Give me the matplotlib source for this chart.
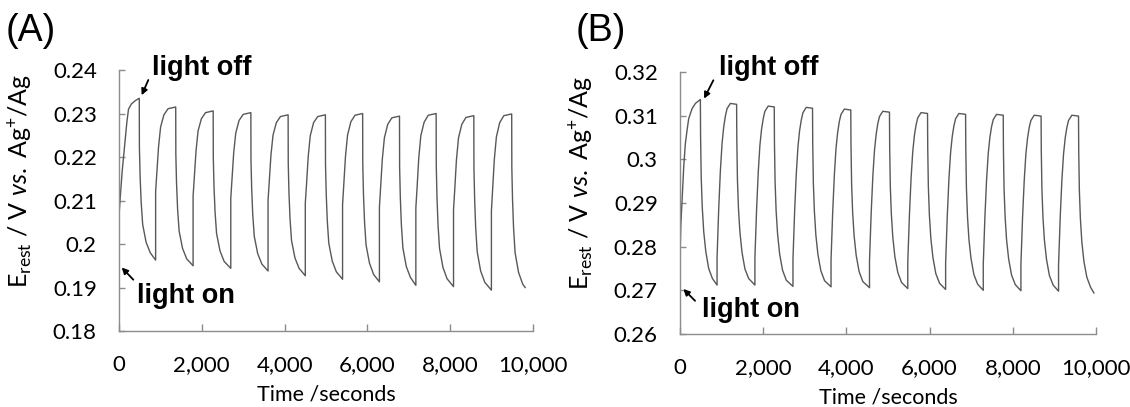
import matplotlib
matplotlib.use("Agg")
import matplotlib.pyplot as plt

plt.rcParams['font.family'] = ['Lato', 'DejaVu Sans']
plt.rcParams['mathtext.fontset'] = 'custom'
plt.rcParams['mathtext.rm'] = 'Lato'
plt.rcParams['mathtext.it'] = 'Lato:italic'

# --- data (time in s, E_rest in V) ---
time_a = [
    0, 0, 40, 80, 140, 190, 230, 300, 400, 490,
    493, 510, 535, 572, 655, 755,
    885, 885, 915, 955, 1005, 1085, 1185, 1370,
    1373, 1390, 1415, 1452, 1535, 1635,
    1790, 1790, 1820, 1860, 1910, 1990, 2090, 2275,
    2278, 2295, 2320, 2357, 2440, 2540,
    2700, 2700, 2730, 2770, 2820, 2900, 3000, 3185,
    3188, 3205, 3230, 3267, 3350, 3450,
    3600, 3600, 3630, 3670, 3720, 3800, 3900, 4085,
    4088, 4105, 4130, 4167, 4250, 4350,
    4500, 4500, 4530, 4570, 4620, 4700, 4800, 4985,
    4988, 5005, 5030, 5067, 5150, 5250,
    5400, 5400, 5430, 5470, 5520, 5600, 5700, 5885,
    5888, 5905, 5930, 5967, 6050, 6150,
    6290, 6290, 6320, 6360, 6410, 6490, 6590, 6775,
    6778, 6795, 6820, 6857, 6940, 7040,
    7170, 7170, 7200, 7240, 7290, 7370, 7470, 7660,
    7663, 7680, 7705, 7742, 7825, 7925,
    8080, 8080, 8110, 8150, 8200, 8280, 8380, 8570,
    8573, 8590, 8615, 8652, 8735, 8835,
    8995, 8995, 9025, 9065, 9115, 9195, 9295, 9485,
    9488, 9505, 9530, 9567, 9650, 9750, 9810,
]
e_a = [
    0.1955, 0.2065, 0.2120, 0.2170, 0.2230, 0.2280, 0.2310, 0.2322, 0.2330, 0.2335,
    0.2223, 0.2156, 0.2097, 0.2045, 0.2004, 0.1980,
    0.1963, 0.2121, 0.2164, 0.2223, 0.2269, 0.2297, 0.2311, 0.2315,
    0.2206, 0.2140, 0.2081, 0.2030, 0.1990, 0.1966,
    0.1950, 0.2110, 0.2153, 0.2213, 0.2260, 0.2288, 0.2302, 0.2306,
    0.2197, 0.2132, 0.2074, 0.2024, 0.1984, 0.1960,
    0.1944, 0.2105, 0.2148, 0.2209, 0.2255, 0.2284, 0.2298, 0.2302,
    0.2193, 0.2127, 0.2069, 0.2018, 0.1978, 0.1954,
    0.1938, 0.2100, 0.2143, 0.2204, 0.2250, 0.2279, 0.2293, 0.2297,
    0.2186, 0.2119, 0.2060, 0.2008, 0.1968, 0.1944,
    0.1927, 0.2094, 0.2138, 0.2201, 0.2249, 0.2279, 0.2293, 0.2297,
    0.2184, 0.2116, 0.2055, 0.2002, 0.1961, 0.1936,
    0.1919, 0.2090, 0.2136, 0.2201, 0.2250, 0.2281, 0.2296, 0.2300,
    0.2184, 0.2114, 0.2052, 0.1998, 0.1956, 0.1930,
    0.1913, 0.2084, 0.2130, 0.2195, 0.2244, 0.2275, 0.2290, 0.2294,
    0.2177, 0.2107, 0.2045, 0.1991, 0.1948, 0.1923,
    0.1905, 0.2083, 0.2130, 0.2197, 0.2249, 0.2280, 0.2296, 0.2300,
    0.2181, 0.2109, 0.2045, 0.1990, 0.1946, 0.1920,
    0.1902, 0.2079, 0.2126, 0.2193, 0.2244, 0.2275, 0.2291, 0.2295,
    0.2175, 0.2103, 0.2038, 0.1982, 0.1938, 0.1912,
    0.1894, 0.2076, 0.2125, 0.2194, 0.2246, 0.2279, 0.2295, 0.2299,
    0.2176, 0.2103, 0.2037, 0.1980, 0.1935, 0.1908, 0.1900,
]

time_b = [
    0, 0, 20, 48, 90, 128, 168, 208, 289, 369, 489,
    494, 509, 534, 569, 619, 689, 779,
    890, 890, 930, 970, 1010, 1050, 1090, 1130, 1210, 1360,
    1365, 1380, 1405, 1440, 1490, 1560, 1650,
    1800, 1800, 1840, 1880, 1920, 1960, 2000, 2040, 2120, 2265,
    2270, 2285, 2310, 2345, 2395, 2465, 2555,
    2715, 2715, 2755, 2795, 2835, 2875, 2915, 2955, 3035, 3185,
    3190, 3205, 3230, 3265, 3315, 3385, 3475,
    3630, 3630, 3670, 3710, 3750, 3790, 3830, 3870, 3950, 4105,
    4110, 4125, 4150, 4185, 4235, 4305, 4395,
    4555, 4555, 4595, 4635, 4675, 4715, 4755, 4795, 4875, 5035,
    5040, 5055, 5080, 5115, 5165, 5235, 5325,
    5475, 5475, 5515, 5555, 5595, 5635, 5675, 5715, 5795, 5950,
    5955, 5970, 5995, 6030, 6080, 6150, 6240,
    6385, 6385, 6425, 6465, 6505, 6545, 6585, 6625, 6705, 6865,
    6870, 6885, 6910, 6945, 6995, 7065, 7155,
    7290, 7290, 7330, 7370, 7410, 7450, 7490, 7530, 7610, 7770,
    7775, 7790, 7815, 7850, 7900, 7970, 8060,
    8195, 8195, 8235, 8275, 8315, 8355, 8395, 8435, 8515, 8680,
    8685, 8700, 8725, 8760, 8810, 8880, 8970,
    9100, 9100, 9140, 9180, 9220, 9260, 9300, 9340, 9420, 9580,
    9585, 9600, 9625, 9660, 9710, 9780, 9870, 9950,
]
e_b = [
    0.2705, 0.2780, 0.2850, 0.2905, 0.2985, 0.3036, 0.3066, 0.3093, 0.3116, 0.3128, 0.3137,
    0.3052, 0.2959, 0.2891, 0.2835, 0.2789, 0.2750, 0.2727,
    0.2712, 0.2774, 0.2887, 0.2974, 0.3036, 0.3074, 0.3099, 0.3116, 0.3128, 0.3126,
    0.3045, 0.2953, 0.2887, 0.2833, 0.2787, 0.2749, 0.2727,
    0.2712, 0.2774, 0.2884, 0.2970, 0.3032, 0.3069, 0.3093, 0.3110, 0.3122, 0.3120,
    0.3039, 0.2949, 0.2882, 0.2829, 0.2783, 0.2746, 0.2723,
    0.2709, 0.2771, 0.2881, 0.2967, 0.3029, 0.3066, 0.3090, 0.3107, 0.3119, 0.3117,
    0.3037, 0.2946, 0.2881, 0.2827, 0.2782, 0.2745, 0.2722,
    0.2708, 0.2769, 0.2879, 0.2964, 0.3025, 0.3062, 0.3087, 0.3103, 0.3115, 0.3113,
    0.3033, 0.2943, 0.2878, 0.2825, 0.2780, 0.2743, 0.2720,
    0.2706, 0.2767, 0.2876, 0.2961, 0.3021, 0.3057, 0.3082, 0.3098, 0.3110, 0.3108,
    0.3029, 0.2939, 0.2875, 0.2822, 0.2777, 0.2741, 0.2718,
    0.2704, 0.2764, 0.2873, 0.2958, 0.3018, 0.3055, 0.3079, 0.3095, 0.3107, 0.3105,
    0.3026, 0.2937, 0.2872, 0.2819, 0.2775, 0.2738, 0.2716,
    0.2702, 0.2762, 0.2871, 0.2956, 0.3016, 0.3053, 0.3077, 0.3093, 0.3105, 0.3103,
    0.3024, 0.2935, 0.2870, 0.2817, 0.2773, 0.2736, 0.2714,
    0.2700, 0.2760, 0.2869, 0.2954, 0.3014, 0.3051, 0.3075, 0.3091, 0.3103, 0.3101,
    0.3022, 0.2933, 0.2869, 0.2816, 0.2772, 0.2735, 0.2713,
    0.2699, 0.2759, 0.2868, 0.2952, 0.3013, 0.3049, 0.3073, 0.3089, 0.3101, 0.3099,
    0.3020, 0.2932, 0.2867, 0.2815, 0.2771, 0.2734, 0.2712,
    0.2698, 0.2758, 0.2867, 0.2952, 0.3012, 0.3049, 0.3073, 0.3089, 0.3101, 0.3099,
    0.3019, 0.2930, 0.2864, 0.2811, 0.2766, 0.2730, 0.2707, 0.2694,
]

x_ticks = [0, 2000, 4000, 6000, 8000, 10000]
x_tick_labels = ['0', '2,000', '4,000', '6,000', '8,000', '10,000']
y_ticks_a = [0.18, 0.19, 0.20, 0.21, 0.22, 0.23, 0.24]
y_tick_labels_a = ['0.18', '0.19', '0.2', '0.21', '0.22', '0.23', '0.24']
y_ticks_b = [0.26, 0.27, 0.28, 0.29, 0.30, 0.31, 0.32]
y_tick_labels_b = ['0.26', '0.27', '0.28', '0.29', '0.3', '0.31', '0.32']

# annotation anchors (data coords): text pos, arrow tail, arrow head
notes_a = {
    'light off': ((797, 0.2388), (708, 0.2377), (548, 0.2342)),
    'light on': ((427, 0.1865), (346, 0.1918), (65, 0.1946)),
}
notes_b = {
    'light off': ((946, 0.3192), (801, 0.3181), (577, 0.3139)),
    'light on': ((522, 0.2638), (361, 0.2676), (80, 0.2703)),
}

SPINE = '#8c8c8c'
LINE = '#585858'

fig = plt.figure(figsize=(11.3, 4.07), dpi=100)

panels = [
    ([0.1053, 0.1867, 0.3664, 0.6413], time_a, e_a, y_ticks_a, y_tick_labels_a, notes_a, '(A)', 0.005),
    ([0.6018, 0.1794, 0.3681, 0.6437], time_b, e_b, y_ticks_b, y_tick_labels_b, notes_b, '(B)', 0.509),
]

for rect, t, e, yt, ytl, notes, tag, tag_x in panels:
    ax = fig.add_axes(rect)
    ax.plot(t, e, color=LINE, lw=1.0)
    ax.set_xlim(0, 10000)
    ax.set_ylim(yt[0], yt[-1])
    ax.set_xticks(x_ticks)
    ax.set_xticklabels(x_tick_labels)
    ax.set_yticks(yt)
    ax.set_yticklabels(ytl)
    for s in ['top', 'right']:
        ax.spines[s].set_visible(False)
    for s in ['left', 'bottom']:
        ax.spines[s].set_color(SPINE)
        ax.spines[s].set_linewidth(1.0)
    ax.tick_params(axis='x', direction='in', length=5, width=1.0, color=SPINE, pad=17, labelsize=16)
    ax.tick_params(axis='y', direction='in', length=4.3, width=1.0, color=SPINE, pad=16, labelsize=16)
    ax.set_xlabel('Time /seconds', fontsize=15.5)
    ax.xaxis.set_label_coords(0.5, -0.205)
    ax.set_ylabel(r'E$_{\mathrm{rest}}$ / V $\mathit{vs.}$ Ag$^{+}$/Ag', fontsize=18)
    ax.yaxis.set_label_coords(-0.205, 0.575)

    for label, (txt, tail, head) in notes.items():
        ax.text(txt[0], txt[1], label, fontsize=19.5, fontweight='bold',
                family='Liberation Sans', ha='left', va='baseline', clip_on=False)
        ax.annotate('', xy=head, xytext=tail, annotation_clip=False,
                    arrowprops=dict(arrowstyle='-|>', color='black', lw=1.3,
                                    mutation_scale=9, shrinkA=0, shrinkB=0))

    fig.text(tag_x, 0.924, tag, fontsize=27, family='Liberation Sans', ha='left', va='center')

fig.savefig('out.png', dpi=100)
